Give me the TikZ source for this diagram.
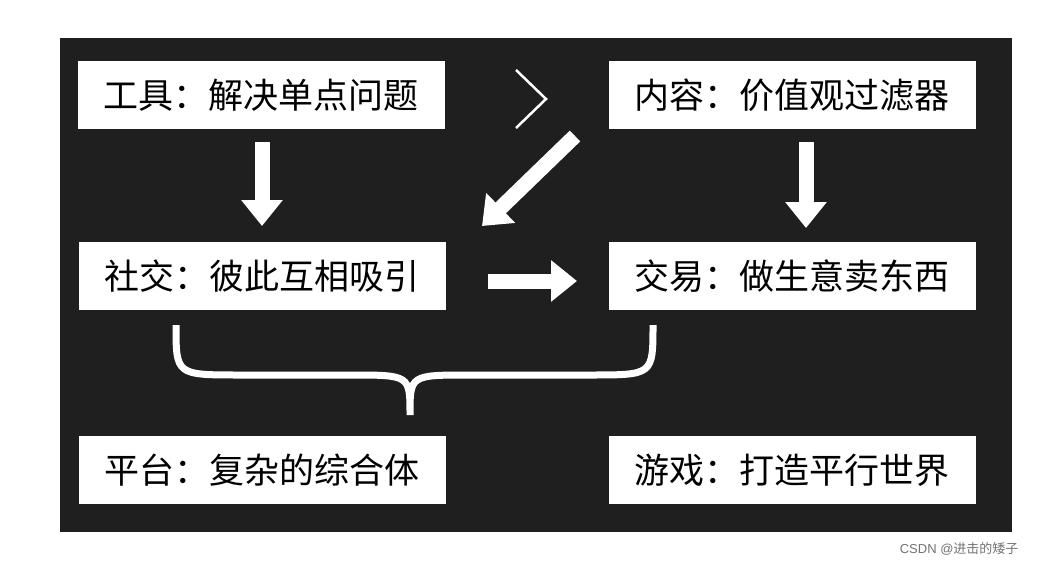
\documentclass[tikz,border=0pt]{standalone}
\usepackage{fontspec}
\setmainfont{Noto Sans CJK SC}
\usetikzlibrary{arrows.meta}
\tikzset{
  box/.style={fill=white, draw=none, minimum width=367pt, minimum height=68pt, inner sep=0pt,
    font=\fontsize{35}{40}\selectfont, text=black},
  blk/.style={white, line width=15pt, -{Triangle[width=40pt,length=26pt]}},
}
\begin{document}
\begin{tikzpicture}[x=1pt,y=-1pt]
  \useasboundingbox (0,0) rectangle (1038,567);
  \fill[white] (0,0) rectangle (1038,567);
  \fill[black!88] (60,38) rectangle (1012,532);

  \node[box] (tool) at (261,95) {工具：解决单点问题};
  \node[box] (content) at (792,95) {内容：价值观过滤器};
  \node[box] (social) at (262,276) {社交：彼此互相吸引};
  \node[box] (trade) at (792,276) {交易：做生意卖东西};
  \node[box] (platform) at (262,470) {平台：复杂的综合体};
  \node[box] (game) at (792,470) {游戏：打造平行世界};

  \coordinate (d1) at (262,142);
  \coordinate (d2) at (262,226);
  \coordinate (d3) at (806,142);
  \coordinate (d4) at (806,228);
  \coordinate (g1) at (575,136);
  \coordinate (g2) at (482,226);
  \coordinate (r1) at (488,281);
  \coordinate (r2) at (577,281);
  \draw[blk] (d1) -- (d2);
  \draw[blk] (d3) -- (d4);
  \draw[blk] (g1) -- (g2);
  \draw[blk] (r1) -- (r2);

  % chevron
  \draw[white, line width=2.5pt] (516,70) -- (546,99) -- (516,128);

  % brace
  \draw[white, line width=7pt] (176,325) .. controls (176,375) .. (240,375) -- (350,375)
    .. controls (410,375) .. (410,415) .. controls (410,375) .. (470,375) -- (590,375)
    .. controls (653,375) .. (653,325);

  \node[text=black!55, font=\fontsize{13}{15}\selectfont, anchor=east] (mark) at (1022,549)
    {\fontspec{Liberation Sans}CSDN @\fontspec{Noto Sans CJK SC}进击的矮子};
\end{tikzpicture}
\end{document}
